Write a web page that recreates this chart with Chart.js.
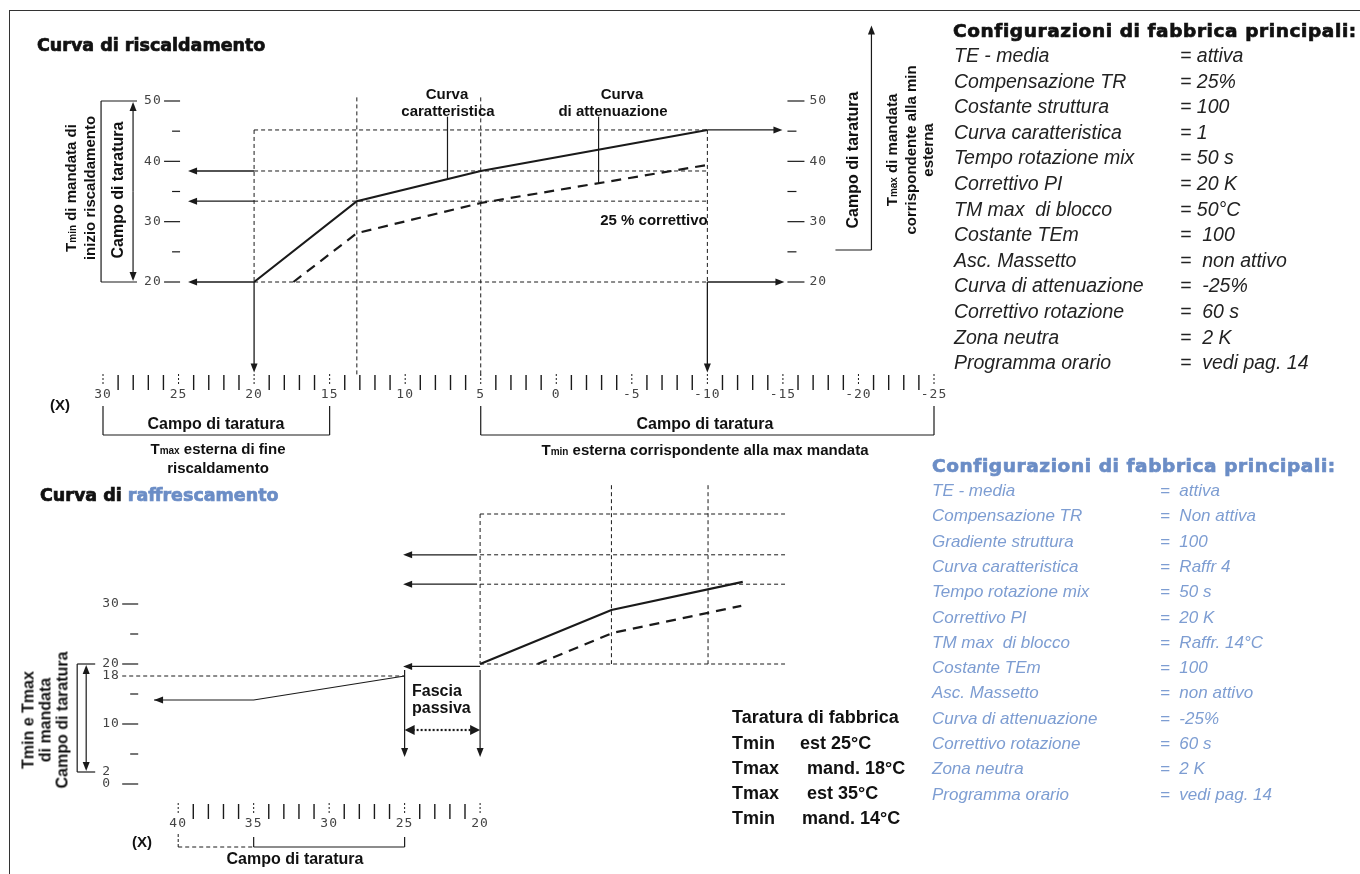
<!DOCTYPE html>
<html>
<head>
<meta charset="utf-8">
<script src="https://cdn.jsdelivr.net/npm/chart.js@4.4.1/dist/chart.umd.min.js"></script>
<style>
  html, body { margin: 0; padding: 0; background: #fff; }
  #page { position: relative; width: 1360px; height: 874px; overflow: hidden; background: #fff; }
  canvas { position: absolute; left: 0; top: 0; }
  .frame { position: absolute; left: 9px; top: 10px; right: -5px; bottom: -5px;
    border-top: 1.5px solid #333; border-left: 1.5px solid #333; }
  .t { position: absolute; font-family: "Liberation Sans", Arial, sans-serif; font-weight: bold;
    font-size: 15px; color: #111; white-space: pre; line-height: 17px; text-align: center;
    transform: translate(-50%, -50%); }
  .l { text-align: left; transform: translate(0, -50%); }
  .rot { transform: translate(-50%, -50%) rotate(-90deg); }
  .head { font-family: "DejaVu Sans", "Liberation Sans", sans-serif; font-weight: bold; font-size: 17.5px;
    -webkit-text-stroke: 0.7px currentColor; }
  .cfgtitle { font-size: 18.5px; letter-spacing: 0.6px; }
  .cfg { font-weight: normal; font-style: italic; font-size: 19.5px; color: #222; }
  .blue { color: #6b8dc6; }
  .cfgb { font-weight: normal; font-style: italic; font-size: 17px; color: #7d9dd2; }
  .sm { font-size: 10px; }
  .big { font-size: 18px; }
</style>
</head>
<body>
<div id="page">
  <div class="frame"></div>
  <canvas id="heat-chart" width="1360" height="874"></canvas>
  <canvas id="cool-chart" width="1360" height="874"></canvas>

  <!-- heating chart labels -->
  <div class="t l head" style="left:37px;top:45px">Curva di riscaldamento</div>
  <div class="t" style="left:447px;top:93px">Curva</div>
  <div class="t" style="left:448px;top:110px">caratteristica</div>
  <div class="t" style="left:622px;top:93px">Curva</div>
  <div class="t" style="left:613px;top:110px">di attenuazione</div>
  <div class="t" style="left:654px;top:219px">25 % correttivo</div>
  <div class="t rot" style="left:80px;top:188px">T<span class="sm">min</span> di mandata di
inizio riscaldamento</div>
  <div class="t rot" style="left:117px;top:190px;font-size:16px">Campo di taratura</div>
  <div class="t rot" style="left:852px;top:160px;font-size:16px">Campo di taratura</div>
  <div class="t rot" style="left:909px;top:150px">T<span class="sm">max</span> di mandata
corrispondente alla min
esterna</div>
  <div class="t" style="left:60px;top:404px">(X)</div>
  <div class="t" style="left:216px;top:423px;font-size:16px">Campo di taratura</div>
  <div class="t" style="left:218px;top:458px">T<span class="sm">max</span> esterna di fine
riscaldamento</div>
  <div class="t" style="left:705px;top:423px;font-size:16px">Campo di taratura</div>
  <div class="t" style="left:705px;top:450px">T<span class="sm">min</span> esterna corrispondente alla max mandata</div>

  <!-- cooling chart labels -->
  <div class="t l head" style="left:40px;top:495px">Curva di <span class="blue">raffrescamento</span></div>
  <div class="t rot" style="left:45px;top:720px;font-size:16px">Tmin e Tmax
di mandata
Campo di taratura</div>
  <div class="t l" style="left:412px;top:690px;font-size:16px">Fascia</div>
  <div class="t l" style="left:412px;top:707px;font-size:16px">passiva</div>
  <div class="t" style="left:142px;top:841px">(X)</div>
  <div class="t" style="left:295px;top:858px;font-size:16px">Campo di taratura</div>
  <div class="t l big" style="left:732px;top:717px">Taratura di fabbrica</div>
  <div class="t l big" style="left:732px;top:743px">Tmin</div>
  <div class="t l big" style="left:800px;top:743px">est 25°C</div>
  <div class="t l big" style="left:732px;top:768px">Tmax</div>
  <div class="t l big" style="left:807px;top:768px">mand. 18°C</div>
  <div class="t l big" style="left:732px;top:793px">Tmax</div>
  <div class="t l big" style="left:807px;top:793px">est 35°C</div>
  <div class="t l big" style="left:732px;top:818px">Tmin</div>
  <div class="t l big" style="left:802px;top:818px">mand. 14°C</div>

  <!-- factory settings -->
  <div class="t l head cfgtitle" style="left:953px;top:30px">Configurazioni di fabbrica principali:</div>
  <div class="t l head cfgtitle blue" style="left:932px;top:465px">Configurazioni di fabbrica principali:</div>
  <div id="cfg"></div>
</div>

<script>
// Heating curve: outdoor temperature (X) -> flow temperature
const heatOutdoor = [20, 13.2, 5, -10]
const heatFlow = [20, 33.4, 38.4, 45.2]
// attenuation curve (25 % correttivo)
const heatAttenOutdoor = [17.4, 13.2, 5, -10]
const heatAttenFlow = [20, 28.1, 33.1, 39.4]
const heatYTicks = [20, 25, 30, 35, 40, 45, 50]
const heatXFrom = 30
const heatXTo = -25

// Cooling curve
const coolOutdoor = [20, 11.3, 2.6]
const coolFlow = [20, 29, 33.7]
const coolAttenOutdoor = [16.2, 11.2, 2.7]
const coolAttenFlow = [20, 25.2, 29.7]
// passive band: Tmin est 25 -> Tmax mand 18, Tmax est 35 -> Tmin mand 14
const passiveOutdoor = [25, 35, 41.6]
const passiveFlow = [18, 14, 14]
const coolGuideOutdoor = [20, 11.3, 4.9]
const coolGuideFlow = [45, 38.2, 33.3, 20]
const coolYTicks = [0, 5, 10, 15, 20, 25, 30]
const coolYLabels = [0, 2, 10, 18, 20, 30]
const coolXFrom = 40
const coolXTo = 20

// Factory settings text
const heatCfgLabels = ["TE - media", "Compensazione TR", "Costante struttura", "Curva caratteristica",
  "Tempo rotazione mix", "Correttivo PI", "TM max  di blocco", "Costante TEm", "Asc. Massetto",
  "Curva di attenuazione", "Correttivo rotazione", "Zona neutra", "Programma orario"]
const heatCfgValues = ["= attiva", "= 25%", "= 100", "= 1", "= 50 s", "= 20 K", "= 50°C",
  "=  100", "=  non attivo", "=  -25%", "=  60 s", "=  2 K", "=  vedi pag. 14"]
const coolCfgLabels = ["TE - media", "Compensazione TR", "Gradiente struttura", "Curva caratteristica",
  "Tempo rotazione mix", "Correttivo PI", "TM max  di blocco", "Costante TEm", "Asc. Massetto",
  "Curva di attenuazione", "Correttivo rotazione", "Zona neutra", "Programma orario"]
const coolCfgValues = ["=  attiva", "=  Non attiva", "=  100", "=  Raffr 4", "=  50 s", "=  20 K",
  "=  Raffr. 14°C", "=  100", "=  non attivo", "=  -25%", "=  60 s", "=  2 K", "=  vedi pag. 14"]

const INK = "#1a1a1a"
const MONO = "13px 'DejaVu Sans Mono', 'Liberation Mono', monospace"

function pts(xs, ys) {
  return xs.map((x, i) => ({ x: x, y: ys[i] }))
}

function seg(ctx, x1, y1, x2, y2, dash, w) {
  ctx.beginPath()
  ctx.setLineDash(dash || [])
  ctx.lineWidth = w || 1
  ctx.strokeStyle = INK
  ctx.moveTo(x1, y1)
  ctx.lineTo(x2, y2)
  ctx.stroke()
  ctx.setLineDash([])
}

function head(ctx, x, y, ang, len, half) {
  ctx.beginPath()
  ctx.fillStyle = INK
  ctx.moveTo(x, y)
  ctx.lineTo(x - len * Math.cos(ang) + half * Math.sin(ang), y - len * Math.sin(ang) - half * Math.cos(ang))
  ctx.lineTo(x - len * Math.cos(ang) - half * Math.sin(ang), y - len * Math.sin(ang) + half * Math.cos(ang))
  ctx.closePath()
  ctx.fill()
}

function arrow(ctx, x1, y1, x2, y2, w) {
  const ang = Math.atan2(y2 - y1, x2 - x1)
  seg(ctx, x1, y1, x2 - 6 * Math.cos(ang), y2 - 6 * Math.sin(ang), null, w || 1.3)
  head(ctx, x2, y2, ang, 9, 3.5)
}

const guide = [4, 3]

// ruler with one mark per degree, labels every 5
function drawRuler(ctx, xs, from, to, y0) {
  ctx.font = MONO
  ctx.fillStyle = "#444"
  ctx.textAlign = "center"
  ctx.textBaseline = "middle"
  if ("letterSpacing" in ctx) ctx.letterSpacing = "1px"
  for (let v = from; v >= to; v--) {
    const px = xs.getPixelForValue(v)
    if (v % 5 === 0) {
      seg(ctx, px, y0 - 2, px, y0 + 9, [2, 2], 1)
      ctx.fillText(String(v), px, y0 + 19)
    } else {
      seg(ctx, px, y0 - 1, px, y0 + 14, null, 1.4)
    }
  }
  if ("letterSpacing" in ctx) ctx.letterSpacing = "0px"
}

function yLabel(ctx, text, x, y) {
  ctx.font = MONO
  ctx.fillStyle = "#444"
  ctx.textAlign = "left"
  ctx.textBaseline = "middle"
  if ("letterSpacing" in ctx) ctx.letterSpacing = "1px"
  ctx.fillText(text, x, y)
  if ("letterSpacing" in ctx) ctx.letterSpacing = "0px"
}

// extra drawing for the heating chart
const heatExtras = {
  id: "heatExtras",
  beforeDatasetsDraw(chart) {
    const { ctx, scales } = chart
    const X = (v) => scales.x.getPixelForValue(v)
    const Y = (v) => scales.y.getPixelForValue(v)
    const first = heatOutdoor[0]
    const last = heatOutdoor[heatOutdoor.length - 1]
    const top = heatFlow[heatFlow.length - 1]
    ctx.save()
    heatFlow.forEach((f) => seg(ctx, X(first), Y(f), X(last), Y(f), guide, 1))
    seg(ctx, X(first), Y(top), X(first), Y(20), guide, 1)
    seg(ctx, X(last), Y(top), X(last), Y(20), guide, 1)
    heatOutdoor.slice(1, 3).forEach((o) => seg(ctx, X(o), Y(50.6), X(o), Y(4.6), guide, 1))
    ctx.restore()
  },
  afterDraw(chart) {
    const { ctx, scales } = chart
    const X = (v) => scales.x.getPixelForValue(v)
    const Y = (v) => scales.y.getPixelForValue(v)
    const first = heatOutdoor[0]
    const last = heatOutdoor[heatOutdoor.length - 1]
    const top = heatFlow[heatFlow.length - 1]
    const axL = X(24.9)
    const axR = X(-15.3)
    ctx.save()

    // y axes (left and right)
    heatYTicks.forEach((v) => {
      const py = Y(v)
      const major = v % 10 === 0
      seg(ctx, major ? axL - 16 : axL - 8, py, axL, py, null, 1.2)
      seg(ctx, axR, py, major ? axR + 17 : axR + 9, py, null, 1.2)
      if (major) {
        yLabel(ctx, String(v), axL - 36, py)
        yLabel(ctx, String(v), axR + 22, py)
      }
    })

    // arrows to the axes
    heatFlow.slice(0, 3).forEach((f) => arrow(ctx, X(first), Y(f), axL + 8, Y(f)))
    arrow(ctx, X(last), Y(top), axR - 5, Y(top))
    arrow(ctx, X(last), Y(20), axR - 3, Y(20))
    arrow(ctx, X(first), Y(20), X(first), Y(5))
    arrow(ctx, X(last), Y(20), X(last), Y(5))

    // leader lines for the curve labels
    seg(ctx, X(7.2), Y(47.4), X(7.2), Y(37.1), null, 1.2)
    seg(ctx, X(-2.8), Y(47.4), X(-2.8), Y(36.4), null, 1.2)

    // left calibration bracket
    const bx = axL - 79
    seg(ctx, bx, Y(50), bx, Y(20), null, 1.2)
    seg(ctx, bx, Y(50), bx + 36, Y(50), null, 1.2)
    seg(ctx, bx, Y(20), bx + 36, Y(20), null, 1.2)
    arrow(ctx, bx + 32, (Y(50) + Y(20)) / 2, bx + 32, Y(50) + 1, 1.2)
    arrow(ctx, bx + 32, (Y(50) + Y(20)) / 2, bx + 32, Y(20) - 1, 1.2)

    // right calibration bracket
    const rx = axR + 84
    arrow(ctx, rx, Y(25.3), rx, Y(62.5), 1.2)
    seg(ctx, rx - 36, Y(25.3), rx, Y(25.3), null, 1.2)

    // outdoor temperature ruler and brackets
    const ry = Y(20) + 94
    drawRuler(ctx, scales.x, heatXFrom, heatXTo, ry)
    const by = ry + 59
    seg(ctx, X(30), by - 29, X(30), by, null, 1.2)
    seg(ctx, X(15), by - 29, X(15), by, null, 1.2)
    seg(ctx, X(30), by, X(15), by, null, 1.2)
    seg(ctx, X(5), by - 29, X(5), by, null, 1.2)
    seg(ctx, X(-25), by - 29, X(-25), by, null, 1.2)
    seg(ctx, X(5), by, X(-25), by, null, 1.2)
    ctx.restore()
  },
}

// extra drawing for the cooling chart
const coolExtras = {
  id: "coolExtras",
  beforeDatasetsDraw(chart) {
    const { ctx, scales } = chart
    const X = (v) => scales.x.getPixelForValue(v)
    const Y = (v) => scales.y.getPixelForValue(v)
    ctx.save()
    coolGuideFlow.forEach((f) => seg(ctx, X(coolGuideOutdoor[0]), Y(f), X(-0.2), Y(f), guide, 1))
    seg(ctx, X(coolGuideOutdoor[0]), Y(45), X(coolGuideOutdoor[0]), Y(20), guide, 1)
    coolGuideOutdoor.slice(1).forEach((o) => seg(ctx, X(o), Y(49.8), X(o), Y(20), guide, 1))
    ctx.restore()
  },
  afterDraw(chart) {
    const { ctx, scales } = chart
    const X = (v) => scales.x.getPixelForValue(v)
    const Y = (v) => scales.y.getPixelForValue(v)
    const ax = X(42.65)
    ctx.save()

    // y axis
    coolYTicks.forEach((v) => {
      const major = v % 10 === 0
      seg(ctx, major ? ax - 16 : ax - 8, Y(v), ax, Y(v), null, 1.2)
    })
    coolYLabels.forEach((v) => yLabel(ctx, String(v), ax - 36, Y(v)))

    // Tmax mandata 18 guide
    seg(ctx, ax - 16, Y(18), X(25), Y(18), guide, 1)

    // arrows towards the passive band
    coolGuideFlow.slice(1, 3).forEach((f) => arrow(ctx, X(20.2), Y(f), X(25.1), Y(f)))
    arrow(ctx, X(20), Y(19.6), X(25.1), Y(19.6))
    // passive band end arrows
    const lastP = passiveOutdoor.length - 1
    head(ctx, X(passiveOutdoor[lastP]), Y(passiveFlow[lastP]), Math.PI, 9, 3.5)
    arrow(ctx, X(25), Y(19), X(25), Y(4.5), 1.2)
    arrow(ctx, X(20), Y(19), X(20), Y(4.5), 1.2)
    seg(ctx, X(25) + 8, Y(9), X(20) - 8, Y(9), [2, 2], 2.2)
    head(ctx, X(25), Y(9), Math.PI, 10, 5)
    head(ctx, X(20), Y(9), 0, 10, 5)

    // calibration bracket on the left
    const bx = ax - 61
    seg(ctx, bx, Y(20), bx, Y(2), null, 1.2)
    seg(ctx, bx, Y(20), bx + 18, Y(20), null, 1.2)
    seg(ctx, bx, Y(2), bx + 18, Y(2), null, 1.2)
    arrow(ctx, bx + 9, (Y(20) + Y(2)) / 2, bx + 9, Y(20) + 1, 1.2)
    arrow(ctx, bx + 9, (Y(20) + Y(2)) / 2, bx + 9, Y(2) - 1, 1.2)

    // ruler and bracket
    const ry = Y(0) + 21
    drawRuler(ctx, scales.x, coolXFrom, coolXTo, ry)
    const by = ry + 42
    seg(ctx, X(40), by - 13, X(40), by, [3, 2], 1)
    seg(ctx, X(40), by, X(35), by, [4, 3], 1)
    seg(ctx, X(35), by - 10, X(35), by, null, 1.2)
    seg(ctx, X(35), by, X(25), by, null, 1.2)
    seg(ctx, X(25), by - 10, X(25), by, null, 1.2)
    ctx.restore()
  },
}

function curve(data, dashed, width) {
  return {
    data: data,
    borderColor: INK,
    borderWidth: width || 2.2,
    borderDash: dashed ? [10, 7] : [],
    pointRadius: 0,
    tension: 0,
    fill: false,
    clip: false,
  }
}

function hiddenScales(xMin, xMax, yMin, yMax) {
  return {
    x: { type: "linear", min: xMin, max: xMax, reverse: true, display: false },
    y: { type: "linear", min: yMin, max: yMax, display: false },
  }
}

const baseOptions = {
  responsive: false,
  animation: false,
  events: [],
  plugins: { legend: { display: false }, tooltip: { enabled: false } },
}

// heating chart: x 30 .. -25, y 20 .. 50
new Chart(document.getElementById("heat-chart").getContext("2d"), {
  type: "line",
  data: {
    datasets: [
      curve(pts(heatOutdoor, heatFlow), false),
      curve(pts(heatAttenOutdoor, heatAttenFlow), true),
    ],
  },
  options: Object.assign({}, baseOptions, {
    layout: { padding: { left: 103, right: 426, top: 101, bottom: 592 } },
    scales: hiddenScales(heatXTo, heatXFrom, 20, 50),
  }),
  plugins: [heatExtras],
})

// cooling chart: x 42 .. 0, y 0 .. 45
new Chart(document.getElementById("cool-chart").getContext("2d"), {
  type: "line",
  data: {
    datasets: [
      curve(pts(coolOutdoor, coolFlow), false),
      curve(pts(coolAttenOutdoor, coolAttenFlow), true),
      curve(pts(passiveOutdoor, passiveFlow), false, 1.2),
    ],
  },
  options: Object.assign({}, baseOptions, {
    layout: { padding: { left: 148, right: 578, top: 514, bottom: 90 } },
    scales: hiddenScales(0, 42, 0, 45),
  }),
  plugins: [coolExtras],
})

// factory settings lists
function addList(labels, values, left, valueLeft, top, step, cls) {
  const box = document.getElementById("cfg")
  labels.forEach((label, i) => {
    const a = document.createElement("div")
    a.className = "t l " + cls
    a.style.left = left + "px"
    a.style.top = top + i * step + "px"
    a.textContent = label
    box.appendChild(a)
    const b = document.createElement("div")
    b.className = "t l " + cls
    b.style.left = valueLeft + "px"
    b.style.top = top + i * step + "px"
    b.textContent = values[i]
    box.appendChild(b)
  })
}
addList(heatCfgLabels, heatCfgValues, 954, 1180, 55, 25.6, "cfg")
addList(coolCfgLabels, coolCfgValues, 932, 1160, 490, 25.3, "cfgb")
</script>
</body>
</html>
